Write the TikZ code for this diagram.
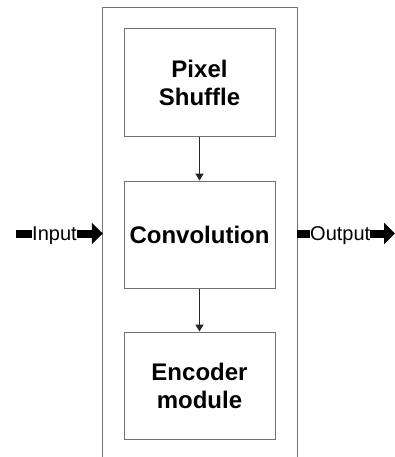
\documentclass[tikz,border=0pt]{standalone}
\usepackage{fontspec}
\setmainfont{Liberation Sans}
\usetikzlibrary{arrows.meta}
\begin{document}
\begin{tikzpicture}[x=1pt,y=-1pt,
  blockbox/.style={draw=black!55,line width=1pt,minimum width=151pt,minimum height=107pt,
    align=center,font=\bfseries\fontsize{24}{28}\selectfont,inner sep=0pt},
  flow/.style={draw=black!85,line width=1.8pt,-{Triangle[length=7pt,width=8pt]}},
  bar/.style={fill=black,inner sep=0pt,minimum width=14pt,minimum height=8pt},
  iolabel/.style={inner sep=0pt,font=\fontsize{20}{22}\selectfont},
  fatarrow/.style={line width=8pt,-{Triangle[length=11pt,width=21pt]}}]
  \useasboundingbox (0,0) rectangle (395,457);
  % outer frame, open at the bottom
  \node[minimum width=194pt,minimum height=470pt,inner sep=0pt] (outer) at (200,243) {};
  \draw[black!55,line width=1pt] (outer.south west) -- (outer.north west) -- (outer.north east) -- (outer.south east);
  % processing blocks
  \node[blockbox,minimum height=108pt] (shuffle) at (199.5,83) {Pixel\\Shuffle};
  \node[blockbox] (conv) at (199.5,234.5) {Convolution};
  \node[blockbox] (enc) at (199.5,385.5) {Encoder\\module};
  \draw[flow] (shuffle) -- (conv);
  \draw[flow] (conv) -- (enc);
  % input side
  \node[bar,minimum width=16pt] (inbar) at (24,233.5) {};
  \node[iolabel,anchor=base west] (intext) at (32,240) {Input};
  \draw[fatarrow] (intext.east |- inbar.center) -- (outer.west |- inbar.center);
  % output side
  \node[bar,minimum width=13pt] (outbar) at (303.5,233.5) {};
  \node[iolabel,anchor=base west] (outtext) at (310,240) {Output};
  \coordinate (outend) at (395,233.5);
  \draw[fatarrow] (outtext.east |- outbar.center) -- (outend);
\end{tikzpicture}
\end{document}
